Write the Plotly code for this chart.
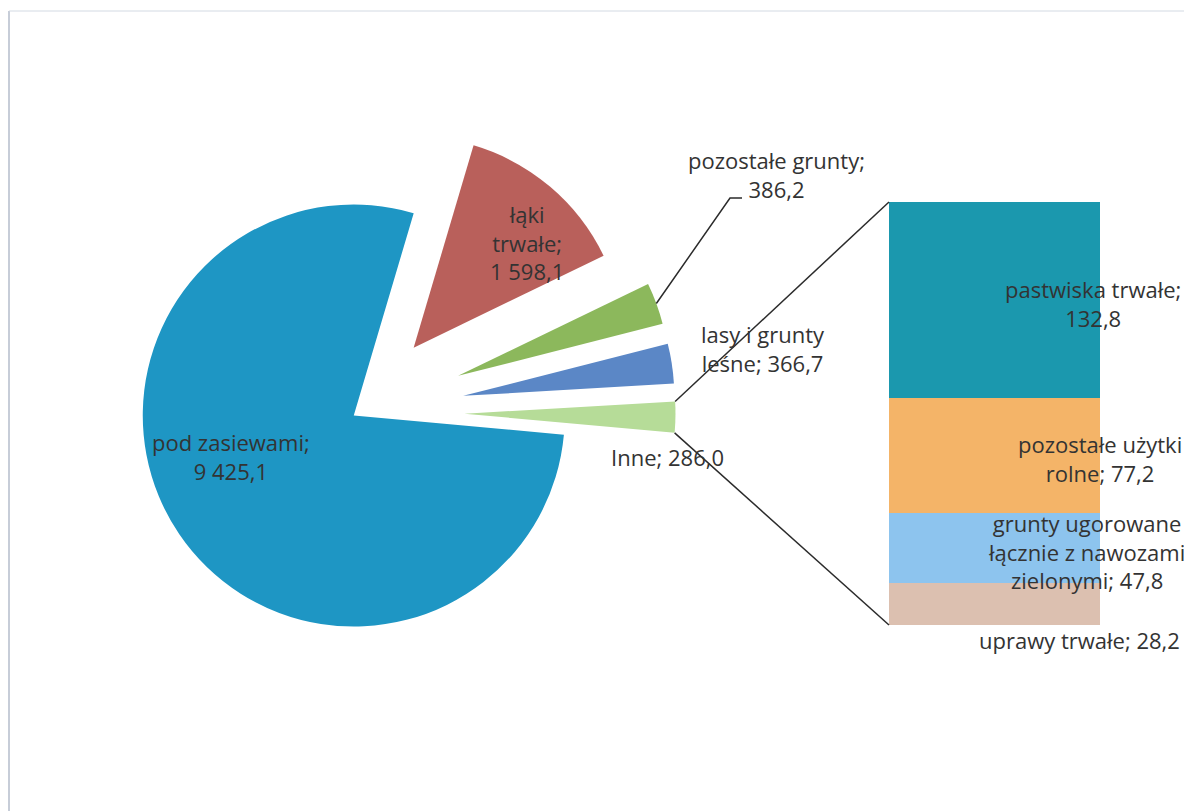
import math
import plotly.graph_objects as go

# ---------------- data ----------------
pie_labels = ["łąki trwałe", "pozostałe grunty", "lasy i grunty leśne", "Inne", "pod zasiewami"]
pie_values = [1598.1, 386.2, 366.7, 286.0, 9425.1]
pie_colors = ["#b9605b", "#8cb85c", "#5b87c6", "#b6dc98", "#1e96c4"]
pie_pulls = [0.40, 0.50, 0.50, 0.50, 0.03]

bar_labels = ["pastwiska trwałe", "pozostałe użytki rolne",
              "grunty ugorowane łącznie z nawozami zielonymi", "uprawy trwałe"]
bar_values = [132.8, 77.2, 47.8, 28.2]
bar_colors = ["#1b98ae", "#f4b468", "#8dc4ee", "#dcc0b0"]


def fmt(v):
    return f"{v:,.1f}".replace(",", " ").replace(".", ",")


# ---------------- geometry (pixels) ----------------
W, H = 1184, 811
CX, CY, R = 359, 412, 211
ROT = 16.5
maxpull = max(pie_pulls)
half = R * (1 + maxpull)
pie_dom_x = [(CX - half) / W, (CX + half) / W]
pie_dom_y = [1 - (CY + half) / H, 1 - (CY - half) / H]

bar_dom_x = [889 / W, 1100 / W]
bar_dom_y = [1 - 625 / H, 1 - 202 / H]

FONT = "Open Sans"
TXT = "#333333"

fig = go.Figure()
fig.add_trace(go.Pie(
    labels=pie_labels, values=pie_values, sort=False, direction="clockwise",
    rotation=ROT, pull=pie_pulls, textinfo="none", hoverinfo="label+value",
    marker=dict(colors=pie_colors, line=dict(width=0)),
    domain=dict(x=pie_dom_x, y=pie_dom_y), showlegend=False,
))

# stacked bar (bottom to top)
for lab, val, col in reversed(list(zip(bar_labels, bar_values, bar_colors))):
    fig.add_trace(go.Bar(x=[0], y=[val], name=lab, marker=dict(color=col, line=dict(width=0)),
                         width=1, showlegend=False, hoverinfo="name+y"))

# pie slice geometry from values
total = sum(pie_values)
angles = []
a = ROT
for v in pie_values:
    span = v / total * 360
    angles.append((a, a + span))
    a += span


def slice_point(i, ang, rad):
    mid = math.radians((angles[i][0] + angles[i][1]) / 2)
    px = CX + pie_pulls[i] * R * math.sin(mid) + rad * math.sin(math.radians(ang))
    py = CY - pie_pulls[i] * R * math.cos(mid) - rad * math.cos(math.radians(ang))
    return px, py


def to_paper(px, py):
    return px / W, 1 - py / H


inne = pie_labels.index("Inne")
top_c = to_paper(*slice_point(inne, angles[inne][0], R))
bot_c = to_paper(*slice_point(inne, angles[inne][1], R))

shapes = [
    dict(type="line", xref="paper", yref="paper", x0=top_c[0], y0=top_c[1],
         x1=bar_dom_x[0], y1=bar_dom_y[1], line=dict(color="#2b2b2b", width=1.5)),
    dict(type="line", xref="paper", yref="paper", x0=bot_c[0], y0=bot_c[1],
         x1=bar_dom_x[0], y1=bar_dom_y[0], line=dict(color="#2b2b2b", width=1.5)),
    # chart border
    dict(type="line", xref="paper", yref="paper", x0=9 / W, y0=1 - 11 / H, x1=9 / W, y1=0,
         line=dict(color="#b4bccb", width=1.5)),
    dict(type="line", xref="paper", yref="paper", x0=9 / W, y0=1 - 11 / H, x1=1, y1=1 - 11 / H,
         line=dict(color="#d3dae3", width=1)),
]

# leader for "pozostałe grunty"
pg = pie_labels.index("pozostałe grunty")
mid_pg = (angles[pg][0] + angles[pg][1]) / 2
sx, sy = to_paper(*slice_point(pg, mid_pg, R))
bx, by = to_paper(730, 198)
ex, ey = to_paper(742, 198)
shapes.append(dict(type="path", xref="paper", yref="paper",
                   path=f"M {sx} {sy} L {bx} {by} L {ex} {ey}",
                   line=dict(color="#2b2b2b", width=1.5)))

# labels
labels_pos = {
    "pod zasiewami": ("pod zasiewami;<br>" + fmt(pie_values[4]), 231, 456),
    "łąki trwałe": ("łąki<br>trwałe;<br>" + fmt(pie_values[0]), 527, 243),
    "pozostałe grunty": ("pozostałe grunty;<br>" + fmt(pie_values[1]), 776, 174),
    "lasy i grunty leśne": ("lasy i grunty<br>leśne; " + fmt(pie_values[2]), 763, 348),
    "Inne": ("Inne; " + fmt(pie_values[3]), 667, 457),
    "pastwiska trwałe": ("pastwiska trwałe;<br>" + fmt(bar_values[0]), 1093, 303),
    "pozostałe użytki rolne": ("pozostałe użytki<br>rolne; " + fmt(bar_values[1]), 1100, 458),
    "grunty ugorowane": ("grunty ugorowane<br>łącznie z nawozami<br>zielonymi; " + fmt(bar_values[2]), 1086, 551),
    "uprawy trwałe": ("uprawy trwałe; " + fmt(bar_values[3]), 1079, 640),
}
annotations = []
for key, (txt, px, py) in labels_pos.items():
    x, y = to_paper(px, py)
    annotations.append(dict(text=txt, x=x, y=y, xref="paper", yref="paper", showarrow=False,
                            xanchor="center", yanchor="middle", align="center",
                            font=dict(family=FONT, size=22, color=TXT)))

fig.update_layout(
    width=W, height=H, margin=dict(l=0, r=0, t=0, b=0, pad=0),
    paper_bgcolor="white", plot_bgcolor="white", barmode="stack", bargap=0,
    xaxis=dict(domain=bar_dom_x, range=[-0.5, 0.5], visible=False, fixedrange=True),
    yaxis=dict(domain=bar_dom_y, range=[0, sum(bar_values)], visible=False, fixedrange=True),
    shapes=shapes, annotations=annotations, showlegend=False,
)

fig.write_html("out.html")
